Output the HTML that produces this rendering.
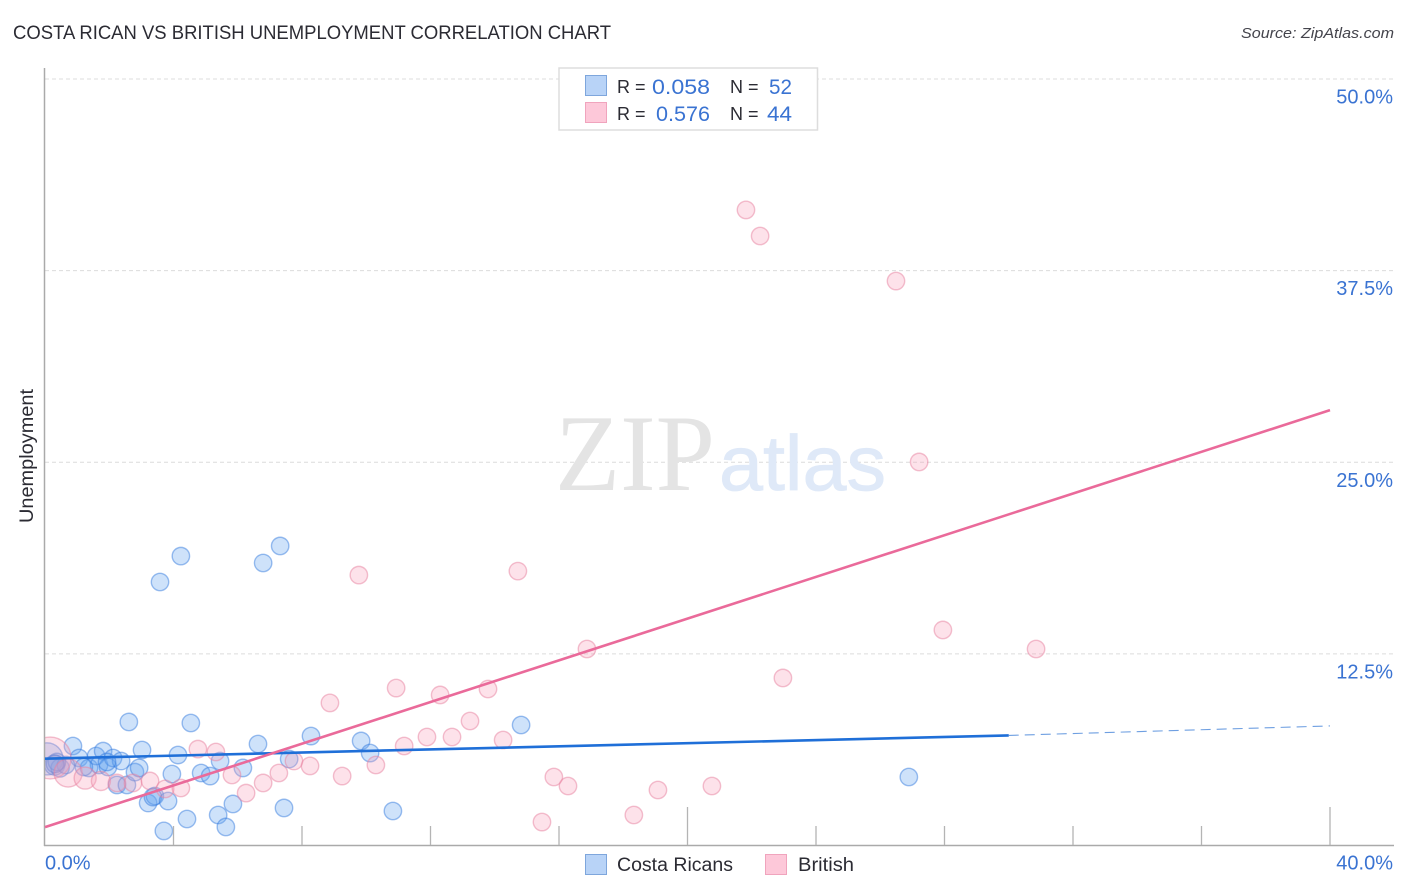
<!DOCTYPE html>
<html lang="en">
<head>
<meta charset="utf-8">
<title>Costa Rican vs British Unemployment Correlation Chart</title>
<style>
html,body{margin:0;padding:0;background:#fff;width:1406px;height:892px;overflow:hidden}
svg{display:block;font-family:"Liberation Sans",sans-serif}
</style>
</head>
<body>
<svg id="chart" xmlns="http://www.w3.org/2000/svg" width="1406" height="892" viewBox="0 0 1406 892">
  <rect x="0" y="0" width="1406" height="892" fill="#ffffff"/>
  <text x="13" y="39" font-size="19" fill="#2b2b33" textLength="598" lengthAdjust="spacingAndGlyphs">COSTA RICAN VS BRITISH UNEMPLOYMENT CORRELATION CHART</text>
  <text x="1241" y="38" font-size="15" font-style="italic" fill="#44444c" textLength="153" lengthAdjust="spacingAndGlyphs">Source: ZipAtlas.com</text>
  <g id="grid"></g>
  <g>
    <text x="555" y="490" font-family="'Liberation Serif',serif" font-size="109" fill="#e4e4e4" textLength="160" lengthAdjust="spacingAndGlyphs">ZIP</text>
    <text x="719" y="490" font-size="78" fill="#dfe9f8" stroke="#dfe9f8" stroke-width="0.8" textLength="167" lengthAdjust="spacingAndGlyphs">atlas</text>
  </g>
  <g id="points"></g>
  <rect x="0" y="700" width="44.500" height="110" fill="#ffffff"/>
  <g id="axes"></g>
  <g id="trends"></g>
  <g id="labels"></g>
  <text transform="translate(33,456) rotate(-90)" font-size="19" fill="#2b2b33" text-anchor="middle" textLength="134" lengthAdjust="spacingAndGlyphs">Unemployment</text>

  <g>
    <rect x="559" y="68" width="258.500" height="62" fill="#ffffff" stroke="#dddddd" stroke-width="1.500"/>
    <rect x="585.500" y="75.500" width="21" height="20" fill="#b8d3f7" stroke="#7ea6dc" stroke-width="1"/>
    <rect x="585.500" y="102.500" width="21" height="20" fill="#fdc8d9" stroke="#f0a4bd" stroke-width="1"/>
    <text x="617" y="93" font-size="18" fill="#2b2b33">R =</text>
    <text x="652" y="94" font-size="21" fill="#3a73d2" textLength="58" lengthAdjust="spacingAndGlyphs">0.058</text>
    <text x="730" y="93" font-size="18" fill="#2b2b33">N =</text>
    <text x="769" y="94" font-size="21" fill="#3a73d2" textLength="23" lengthAdjust="spacingAndGlyphs">52</text>
    <text x="617" y="120" font-size="18" fill="#2b2b33">R =</text>
    <text x="656" y="121" font-size="21" fill="#3a73d2" textLength="54" lengthAdjust="spacingAndGlyphs">0.576</text>
    <text x="730" y="120" font-size="18" fill="#2b2b33">N =</text>
    <text x="767" y="121" font-size="21" fill="#3a73d2" textLength="25" lengthAdjust="spacingAndGlyphs">44</text>
  </g>

  <g>
    <rect x="585.500" y="854.500" width="21" height="20" fill="#b8d3f7" stroke="#7ea6dc" stroke-width="1"/>
    <text x="617" y="871" font-size="19" fill="#2b2b33" textLength="116" lengthAdjust="spacingAndGlyphs">Costa Ricans</text>
    <rect x="765.500" y="854.500" width="21" height="20" fill="#fdc8d9" stroke="#f0a4bd" stroke-width="1"/>
    <text x="798" y="871" font-size="19" fill="#2b2b33" textLength="56" lengthAdjust="spacingAndGlyphs">British</text>
  </g>
</svg>
<script>
const blueX = [0.06,0.30,0.47,0.87,1.06,1.37,1.59,1.81,1.68,1.96,2.12,2.37,2.24,2.55,2.80,2.93,2.61,3.02,3.21,3.42,3.36,3.83,3.95,4.14,4.54,4.42,3.70,4.86,5.14,5.45,5.39,5.63,5.85,6.16,6.63,7.44,7.60,8.28,9.84,10.12,10.83,14.82,26.89,4.23,3.58,6.79,7.32,0.65,1.21,0.37,1.93,0.31];
const blueY = [5.65,5.25,5.06,6.49,5.71,5.06,5.84,6.16,5.25,5.12,5.71,5.51,3.95,3.95,4.79,5.06,8.06,6.23,2.77,3.23,3.16,2.90,4.66,5.90,7.99,1.73,0.95,4.73,4.53,5.51,1.99,1.21,2.71,5.06,6.62,2.45,5.64,7.14,6.82,6.03,2.25,7.86,4.47,18.88,17.19,18.43,19.54,5.25,5.12,5.45,5.45,5.32];
const blueWeight = [3.4,1.35,1.1,1,1,1,1,1,1,1,1,1,1,1,1,1,1,1,1,1,1,1,1,1,1,1,1,1,1,1,1,1,1,1,1,1,1,1,1,1,1,1,1,1,1,1,1,1,1,1,1,1];
const pinkX = [0.16,0.72,1.25,1.74,2.24,2.74,3.27,3.74,4.23,4.76,5.32,5.82,6.26,6.79,7.28,7.75,8.25,9.25,8.87,10.30,9.77,10.93,11.18,11.89,12.30,12.67,13.23,13.79,14.26,14.72,15.84,16.28,15.47,16.87,18.33,19.08,20.76,22.97,21.82,22.26,26.49,27.21,27.95,30.85];
const pinkY = [5.71,4.73,4.40,4.21,4.08,4.08,4.21,3.69,3.75,6.29,6.10,4.60,3.42,4.08,4.73,5.51,5.19,4.53,9.30,5.25,17.64,10.27,6.49,7.08,9.82,7.08,8.12,10.21,6.88,17.90,4.47,3.88,1.53,12.82,1.99,3.62,3.88,10.93,41.46,39.76,36.82,25.02,14.06,12.82];
const pinkWeight = [5.8,2.6,1.6,1.2,1,1,1,1,1,1,1,1,1,1,1,1,1,1,1,1,1,1,1,1,1,1,1,1,1,1,1,1,1,1,1,1,1,1,1,1,1,1,1,1];
const blueTrendEnds = [5.66,7.18,7.8];
const blueTrendAt = [0,30,40];
const pinkTrendEnds = [1.2,28.4];
const pinkTrendAt = [0,40];
const yTicks = [12.5,25,37.5,50];
const yTickLabels = ["12.5%","25.0%","37.5%","50.0%"];
const xTicks = [4,8,12,16,20,24,28,32,36,40];
const xMajorTicks = [20,40];
const xEdgeLabels = ["0.0%","40.0%"];

const NS = "http://www.w3.org/2000/svg";
const X0 = 45, X40 = 1330, Y0 = 845.5, Y50 = 79;
function xScale(v){ return X0 + v * (X40 - X0) / 40; }
function yScale(v){ return Y0 - v * (Y0 - Y50) / 50; }
function rScale(w){ return 8.7 * Math.sqrt(w); }
function make(tag, attrs, parent){
  const el = document.createElementNS(NS, tag);
  for (const k in attrs) el.setAttribute(k, attrs[k]);
  parent.appendChild(el);
  return el;
}
const gridG = document.getElementById("grid");
const axesG = document.getElementById("axes");
const pointsG = document.getElementById("points");
const trendsG = document.getElementById("trends");
const labelsG = document.getElementById("labels");

yTicks.forEach(function(t, i){
  const gl = make("line", {x1:X0, x2:1394, y1:yScale(t), y2:yScale(t), stroke:"#dcdcdc", "stroke-width":1, "stroke-dasharray":"4 3"}, gridG);
  
  
  const lb = make("text", {x:1393, y:yScale(t)+24.5, "font-size":20, fill:"#3a73d2", "text-anchor":"end"}, labelsG);
  
  
  lb.textContent = yTickLabels[i];
});

const yAxis = make("line", {x1:44.5, x2:44.5, y1:68, y2:846, stroke:"#aaaaaa", "stroke-width":1.5}, axesG);


const xAxis = make("line", {x1:44, x2:1394, y1:845.5, y2:845.5, stroke:"#aaaaaa", "stroke-width":1.5}, axesG);


xTicks.forEach(function(t){
  const major = xMajorTicks.indexOf(t) >= 0;
  const tk = make("line", {x1:xScale(t), x2:xScale(t), y1:845, y2:major ? 807 : 826, stroke:"#b4b4b4", "stroke-width":1.3}, axesG);
  
  
});

const x0Label = make("text", {x:45, y:869.5, "font-size":20, fill:"#3a73d2"}, labelsG);


x0Label.textContent = xEdgeLabels[0];
const x40Label = make("text", {x:1393, y:869.5, "font-size":20, fill:"#3a73d2", "text-anchor":"end"}, labelsG);


x40Label.textContent = xEdgeLabels[1];

blueX.forEach(function(v, i){
  const c = make("circle", {cx:xScale(v), cy:yScale(blueY[i]), r:rScale(blueWeight[i]), fill:"rgba(104,164,238,0.32)", stroke:"rgba(50,122,222,0.48)", "stroke-width":1.4}, pointsG);
  
  
});
pinkX.forEach(function(v, i){
  const c = make("circle", {cx:xScale(v), cy:yScale(pinkY[i]), r:rScale(pinkWeight[i]), fill:"rgba(248,160,185,0.30)", stroke:"rgba(232,130,160,0.50)", "stroke-width":1.4}, pointsG);
  
  
});

const blueSolid = make("line", {x1:xScale(blueTrendAt[0]), y1:yScale(blueTrendEnds[0]), x2:xScale(blueTrendAt[1]), y2:yScale(blueTrendEnds[1]), stroke:"#1f6fd8", "stroke-width":2.6}, trendsG);


const blueDash = make("line", {x1:xScale(blueTrendAt[1]), y1:yScale(blueTrendEnds[1]), x2:xScale(blueTrendAt[2]), y2:yScale(blueTrendEnds[2]), stroke:"#3f80d8", "stroke-width":1.1, "stroke-dasharray":"10 6", opacity:0.75}, trendsG);


const pinkLine = make("line", {x1:xScale(pinkTrendAt[0]), y1:yScale(pinkTrendEnds[0]), x2:xScale(pinkTrendAt[1]), y2:yScale(pinkTrendEnds[1]), stroke:"#ea6a9a", "stroke-width":2.6}, trendsG);


</script>
</body>
</html>
